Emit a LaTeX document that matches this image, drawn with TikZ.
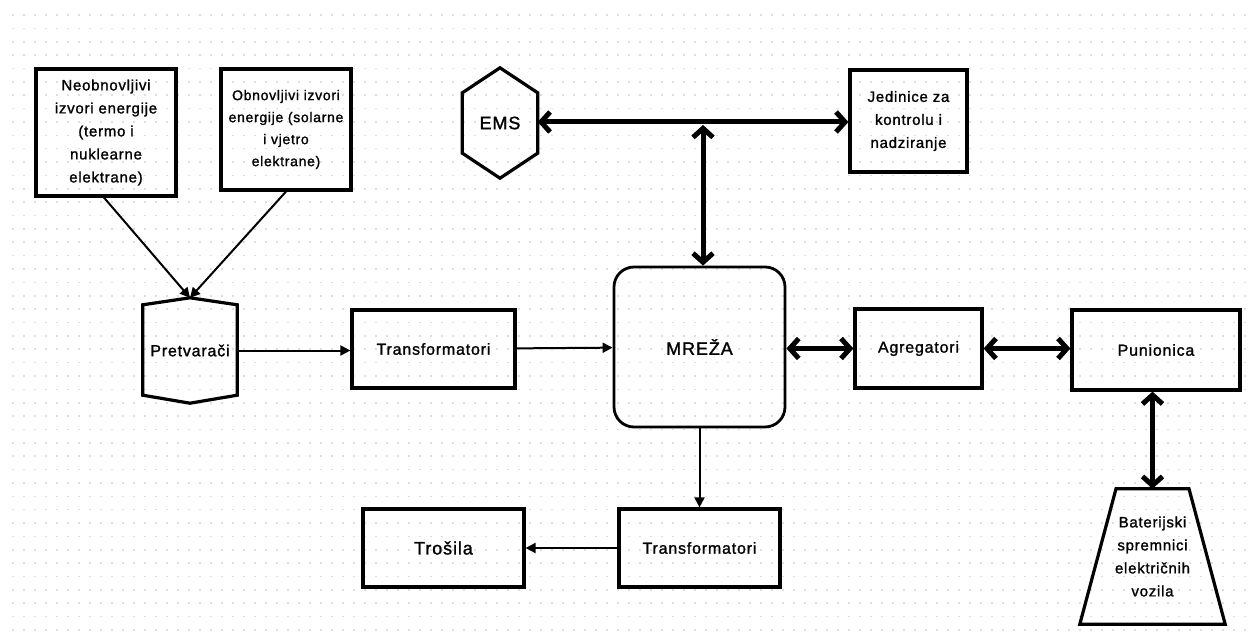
\documentclass[tikz,border=0pt]{standalone}
\usepackage{fontspec}
\setmainfont{Liberation Sans}[LetterSpace=5,BoldFont=Liberation Sans,BoldFeatures={FakeBold=1.3}]
\usetikzlibrary{arrows.meta}

\begin{document}
\begin{tikzpicture}[x=1pt,y=-1pt,line join=miter,
  box/.style={draw,line width=3.2pt,inner sep=0pt,align=center,font=\fontsize{16}{23}\selectfont\bfseries},
  shp/.style={inner sep=0pt,align=center,font=\fontsize{16}{23}\selectfont\bfseries},
  small/.style={font=\fontsize{15}{23}\selectfont\bfseries},
  big/.style={font=\fontsize{18}{23}\selectfont\bfseries},
  thin/.style={line width=2pt,-{Triangle[length=10pt,width=10pt]}},
  dbl/.style={line width=5pt,{Straight Barb[length=9pt,width=20pt]}-{Straight Barb[length=9pt,width=20pt]}}]
\useasboundingbox (0,0) rectangle (1248,639);
\fill[white] (0,0) rectangle (1248,639);
\foreach \i in {0,...,46}
  \draw[black!13,line width=1.6pt,dash pattern=on 1.6pt off 9.4pt] (12.2,{15+13.37*\i}) -- (1248,{15+13.37*\i});

\node[box,small,minimum width=140,minimum height=127] (neob) at (106,132.5)
  {Neobnovljivi\\izvori energije\\(termo i\\nuklearne\\elektrane)};
\node[box,minimum width=130,minimum height=121,font=\fontsize{14}{22}\selectfont\bfseries] (obn) at (286,129.5)
  {Obnovljivi izvori\\energije (solarne\\i vjetro\\elektrane)};
\node[shp,minimum width=94,minimum height=105] (pretv) at (190,350.5) {Pretvarači};
\draw[line width=3.2pt] (pretv.north) -- ([yshift=-7pt]pretv.north east) -- ([yshift=8pt]pretv.south east)
  -- (pretv.south) -- ([yshift=8pt]pretv.south west) -- ([yshift=-7pt]pretv.north west) -- cycle;
\node[box,minimum width=163,minimum height=78] (trafo1) at (433.5,349) {Transformatori};
\node[box,big,line width=2.8pt,rounded corners=20pt,minimum width=171,minimum height=160] (mreza) at (699.5,347) {MREŽA};
\node[shp,big,minimum width=75,minimum height=110] (ems) at (500,123) {EMS};
\draw[line width=3.2pt] (ems.north) -- ([yshift=-25pt]ems.north east) -- ([yshift=25pt]ems.south east)
  -- (ems.south) -- ([yshift=25pt]ems.south west) -- ([yshift=-25pt]ems.north west) -- cycle;
\node[box,small,minimum width=117,minimum height=102] (jed) at (908.5,121) {Jedinice za\\kontrolu i\\nadziranje};
\node[box,minimum width=127,minimum height=79] (agreg) at (918.5,348.5) {Agregatori};
\node[box,minimum width=168,minimum height=80] (pun) at (1156,350) {Punionica};
\node[shp,small,minimum width=145,minimum height=135] (bat) at (1152.5,556.5) {Baterijski\\spremnici\\električnih\\vozila};
\draw[line width=3.2pt] ([xshift=-36.5pt]bat.north) -- ([xshift=36.5pt]bat.north) -- (bat.south east)
  -- (bat.south west) -- cycle;
\node[box,minimum width=161,minimum height=78] (trafo2) at (699.5,548) {Transformatori};
\node[box,big,minimum width=161,minimum height=78] (trosila) at (443.5,548) {Trošila};
\coordinate (spoj) at (703,125);

\draw[thin] ([xshift=-2pt]neob.south) -- (pretv.north);
\draw[thin] (obn.south) -- (pretv.north);
\draw[thin] (pretv.east) -- (trafo1.west |- pretv.east);
\draw[thin] (trafo1) -- (mreza);
\draw[thin] (mreza.south) -- (trafo2.north);
\draw[thin] (trafo2.west) -- (trosila.east);
\draw[dbl] (ems.east |- 0,122) -- (jed.west |- 0,122);
\draw[dbl] (mreza.north -| spoj) -- (spoj);
\draw[dbl] (mreza.east |- agreg) -- (agreg.west);
\draw[dbl] (agreg.east) -- (pun.west |- agreg);
\draw[dbl] (pun.south -| bat.north) -- (bat.north);
\end{tikzpicture}
\end{document}
